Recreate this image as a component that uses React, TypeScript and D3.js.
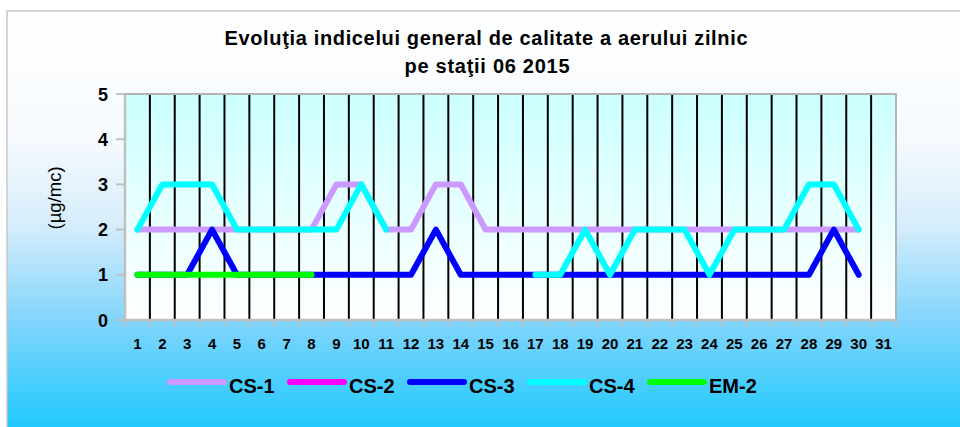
import React from 'react';
import * as d3 from 'd3';

const days = d3.range(1, 32).map(String);
const yTicks = [0, 1, 2, 3, 4, 5];

const cs1 = [2, 2, 2, 2, 2, 2, 2, 2, 3, 3, 2, 2, 3, 3, 2, 2, 2, 2, 2, 2, 2, 2, 2, 2, 2, 2, 2, 2, 2, 2];
const cs2: (number | null)[] = [];
const cs3 = [1, 1, 1, 2, 1, 1, 1, 1, 1, 1, 1, 1, 2, 1, 1, 1, 1, 1, 1, 1, 1, 1, 1, 1, 1, 1, 1, 1, 2, 1];
const cs4 = [2, 3, 3, 3, 2, 2, 2, 2, 2, 3, 2, null, null, null, null, null, 1, 1, 2, 1, 2, 2, 2, 1, 2, 2, 2, 3, 3, 2];
const em2 = [1, 1, 1, 1, 1, 1, 1, 1];

const seriesNames = ['CS-1', 'CS-2', 'CS-3', 'CS-4', 'EM-2'];
const seriesColors = ['#cc99ff', '#ff00ff', '#0000ff', '#00ffff', '#00ff00'];
const seriesValues = [cs1, cs2, cs3, cs4, em2];

const W = 960, H = 427;
const plot = { left: 125, right: 896, top: 94, bottom: 320 };
const font = '"Liberation Sans", Arial, sans-serif';

const App = () => {
  const x = d3.scaleBand<string>().domain(days).range([plot.left, plot.right]);
  const y = d3.scaleLinear().domain([0, 5]).range([plot.bottom, plot.top]);
  const cx = (i: number) => (x(days[i]) as number) + x.bandwidth() / 2;

  const line = d3.line<number | null>()
    .defined(d => d != null)
    .x((_, i) => cx(i))
    .y(d => y(d as number));

  const boundaries = days.map(d => x(d) as number).concat(plot.right);

  return (
    <svg width={W} height={H} style={{ position: 'absolute', left: 0, top: 0 }}>
      <defs>
        <linearGradient id="bg" x1="0" y1="0" x2="0" y2="1">
          <stop offset="0" stopColor="#ffffff" />
          <stop offset="0.3" stopColor="#f6fafe" />
          <stop offset="0.5" stopColor="#d6edfb" />
          <stop offset="0.72" stopColor="#84d5fc" />
          <stop offset="1" stopColor="#16c8fd" />
        </linearGradient>
        <linearGradient id="plotbg" x1="0" y1="0" x2="0" y2="1">
          <stop offset="0" stopColor="#ccffff" />
          <stop offset="1" stopColor="#ffffff" />
        </linearGradient>
      </defs>
      <rect x={0} y={0} width={W} height={H} fill="#ffffff" />
      <rect x={7} y={11} width={W} height={H} fill="url(#bg)" stroke="#c8c8c8" strokeWidth={1.5} />

      {/* plot area */}
      <rect x={plot.left} y={plot.top} width={plot.right - plot.left} height={plot.bottom - plot.top} fill="url(#plotbg)" />
      {boundaries.slice(1, -1).map((bx, i) => (
        <line key={'g' + i} x1={bx} x2={bx} y1={plot.top} y2={plot.bottom} stroke="#000" strokeWidth={2} />
      ))}
      <path d={`M${plot.left},${plot.top}H${plot.right}V${plot.bottom}`} fill="none" stroke="#b4b4b4" strokeWidth={2} />

      {/* axes */}
      <line x1={plot.left} x2={plot.left} y1={plot.top} y2={plot.bottom} stroke="#c0c0c0" strokeWidth={2.5} />
      <line x1={plot.left} x2={plot.right} y1={plot.bottom} y2={plot.bottom} stroke="#c0c0c0" strokeWidth={2.5} />
      {yTicks.map(t => (
        <g key={'y' + t}>
          <line x1={plot.left - 9} x2={plot.left} y1={y(t)} y2={y(t)} stroke="#c0c0c0" strokeWidth={2} />
          <text x={108} y={y(t) + 6.5} textAnchor="end" fontFamily={font} fontWeight="bold" fontSize={18} fill="#000">{t}</text>
        </g>
      ))}
      {boundaries.map((bx, i) => (
        <line key={'xt' + i} x1={bx} x2={bx} y1={plot.bottom} y2={plot.bottom + 6} stroke="#c0c0c0" strokeWidth={2} />
      ))}
      {days.map((d, i) => (
        <text key={'xl' + d} x={cx(i)} y={349} textAnchor="middle" fontFamily={font} fontWeight="bold" fontSize={15} fill="#000">{d}</text>
      ))}
      <text transform={`translate(61,198) rotate(-90)`} textAnchor="middle" fontFamily={font} fontSize={18.5} fill="#000">(µg/mc)</text>

      {/* series */}
      {seriesValues.map((vals, k) => (
        <path key={'s' + k} d={line(vals) || ''} fill="none" stroke={seriesColors[k]} strokeWidth={6}
          strokeLinecap="round" strokeLinejoin="round" />
      ))}

      {/* title */}
      <text x={486} y={45} textAnchor="middle" fontFamily={font} fontWeight="bold" fontSize={20} fill="#000"
        textLength={523} lengthAdjust="spacing">
        Evoluţia indicelui general de calitate a aerului zilnic
      </text>
      <text x={487} y={73} textAnchor="middle" fontFamily={font} fontWeight="bold" fontSize={20} fill="#000"
        textLength={165} lengthAdjust="spacing">
        pe staţii 06 2015
      </text>

      {/* legend */}
      {seriesNames.map((n, k) => {
        const lx = 167 + k * 120;
        return (
          <g key={'l' + n}>
            <line x1={lx + 3} x2={lx + 57} y1={382} y2={382} stroke={seriesColors[k]} strokeWidth={6} strokeLinecap="round" />
            <text x={lx + 62} y={393} fontFamily={font} fontWeight="bold" fontSize={20} fill="#000">{n}</text>
          </g>
        );
      })}
    </svg>
  );
};

export default App;
